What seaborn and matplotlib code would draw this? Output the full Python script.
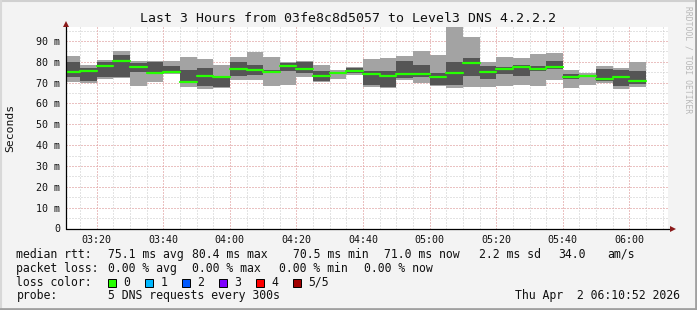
import numpy as np
import pandas as pd
import matplotlib
matplotlib.use("Agg")
import matplotlib.pyplot as plt
from matplotlib.lines import Line2D
from matplotlib.patches import Rectangle
import seaborn as sns

# ---------------- data (ms) ----------------
# bins of 5 minutes, start minute since 03:00
bin_start = [10 + 5 * k for k in range(35)]
ping_max = [82.7, 78.5, 81.1, 85.2, 80.3, 80.5, 80.6, 82.1, 81.5, 78.7,
            82.1, 84.7, 82.1, 80.1, 80.3, 78.5, 76.2, 77.5, 81.5, 82.0,
            82.7, 85.2, 83.2, 97.0, 92.0, 79.7, 82.4, 82.0, 83.6, 84.3,
            76.2, 74.8, 77.8, 77.1, 80.1]
ping_hi = [79.8, 77.1, 79.8, 83.1, 79.5, 80.0, 78.2, 76.2, 77.1, 73.3,
           80.0, 78.3, 75.9, 79.5, 79.8, 75.8, 74.7, 76.9, 75.4, 75.4,
           80.6, 78.3, 74.4, 80.1, 82.0, 78.2, 77.5, 78.3, 77.8, 80.6,
           74.3, 73.9, 76.6, 75.9, 75.4]
ping_med = [75.1, 75.4, 77.8, 80.3, 77.3, 74.6, 75.3, 70.5, 73.3, 72.5,
            76.7, 75.9, 75.3, 77.8, 76.4, 73.3, 74.4, 75.4, 74.1, 73.4,
            74.0, 74.3, 72.9, 74.6, 79.3, 75.3, 76.4, 77.4, 76.4, 77.5,
            72.9, 73.4, 71.8, 72.5, 71.0]
ping_lo = [72.5, 70.8, 72.5, 72.9, 74.9, 74.1, 74.6, 69.7, 68.4, 68.0,
           73.4, 73.8, 74.8, 75.4, 74.6, 70.8, 74.1, 74.5, 68.9, 67.9,
           72.2, 72.5, 69.0, 68.9, 73.3, 71.8, 74.3, 73.4, 75.4, 76.5,
           71.7, 72.9, 70.8, 68.2, 69.5]
ping_min = [70.5, 69.7, 71.9, 72.1, 68.4, 70.4, 74.2, 68.0, 66.8, 67.3,
            71.3, 71.3, 68.4, 68.7, 72.5, 70.2, 71.7, 73.6, 68.0, 67.3,
            71.3, 69.7, 68.2, 67.3, 67.9, 68.0, 68.5, 68.9, 68.5, 71.3,
            67.5, 69.0, 69.7, 66.8, 68.0]

x_ticks = [20, 40, 60, 80, 100, 120, 140, 160, 180]
x_labels = ["03:20", "03:40", "04:00", "04:20", "04:40", "05:00", "05:20", "05:40", "06:00"]
y_ticks = [0, 10, 20, 30, 40, 50, 60, 70, 80, 90]
y_labels = ["0", "10 m", "20 m", "30 m", "40 m", "50 m", "60 m", "70 m", "80 m", "90 m"]

loss_labels = ["0", "1", "2", "3", "4", "5/5"]
loss_colors = ["#26ff00", "#00b8ff", "#0059ff", "#7e00ff", "#ff0000", "#a10000"]

# ---------------- figure ----------------
sns.set_style("white")
plt.rcParams["font.family"] = ["DejaVu Sans Mono", "DejaVu Sans"]

W, H = 697, 310
fig = plt.figure(figsize=(W / 100, H / 100), dpi=100)
fig.patch.set_facecolor("#f3f3f3")

L, R, B, T = 66.3, 668, 228.5, 27
ax = fig.add_axes([L / W, 1 - B / H, (R - L) / W, (B - T) / H])
ax.set_facecolor("white")
ax.set_xlim(10.87, 191.6)
ax.set_ylim(0, 96.7)

df = pd.DataFrame({"start": bin_start, "max": ping_max, "hi": ping_hi,
                   "med": ping_med, "lo": ping_lo, "min": ping_min})

# grids
minor_c = "#c8c8c8"
major_c = "#f2a0a0"
for v in np.arange(15, 192, 5):
    ax.axvline(v, color=minor_c, lw=0.72, ls=(0, (1, 2)), zorder=0)
for v in np.arange(5, 96, 5):
    ax.axhline(v, color=minor_c, lw=0.72, ls=(0, (1, 2)), zorder=0)
for v in x_ticks:
    ax.axvline(v, color=major_c, lw=0.72, ls=(0, (1, 2)), zorder=0.5)
for v in y_ticks[1:]:
    ax.axhline(v, color=major_c, lw=0.72, ls=(0, (1, 2)), zorder=0.5)

# smoke
ax.bar(df["start"], df["max"] - df["min"], bottom=df["min"], width=5,
       align="edge", color="#a3a3a3", linewidth=0, zorder=2)
ax.bar(df["start"], df["hi"] - df["lo"], bottom=df["lo"], width=5,
       align="edge", color="#555555", linewidth=0, zorder=3)

# median segments via seaborn
seg = pd.DataFrame({
    "x": np.concatenate([df["start"].values, df["start"].values + 5]),
    "y": np.concatenate([df["med"].values, df["med"].values]),
    "bin": np.concatenate([np.arange(len(df)), np.arange(len(df))]),
})
sns.lineplot(data=seg, x="x", y="y", units="bin", estimator=None,
             color="#26ff00", lw=1.6, ax=ax, zorder=4, legend=False)

for s in ax.spines.values():
    s.set_visible(False)
ax.set_xlabel("")
ax.set_ylabel("")
ax.set_xticks(x_ticks)
ax.set_xticklabels(x_labels)
ax.set_yticks(y_ticks)
ax.set_yticklabels(y_labels)
ax.set_xticks(np.arange(15, 191, 5), minor=True)
ax.set_yticks(np.arange(5, 96, 5), minor=True)
ax.tick_params(axis="both", which="major", labelsize=7.2, colors="#222222",
               length=3, width=0.7, direction="inout", labelcolor="#111111")
ax.tick_params(axis="both", which="minor", length=2, width=0.7,
               direction="inout", colors="#444444")
ax.tick_params(axis="x", pad=3)
ax.tick_params(axis="y", pad=3)

# axis lines with arrows
xa0 = L / W
xa1 = 676 / W
ya = 1 - B / H
fig.add_artist(Line2D([xa0, xa1 - 4 / W], [ya, ya], color="black", lw=0.9))
fig.add_artist(Line2D([xa0, xa0], [ya, 1 - 25 / H], color="black", lw=0.9))
fig.add_artist(Line2D([xa1 - 3 / W], [ya], marker=">", markersize=5,
                      color="#8b1a1a", markeredgewidth=0))
fig.add_artist(Line2D([xa0], [1 - 24 / H], marker="^", markersize=5,
                      color="#8b1a1a", markeredgewidth=0))

# titles
fig.text(348 / W, 1 - 18.5 / H, "Last 3 Hours from 03fe8c8d5057 to Level3 DNS 4.2.2.2",
         ha="center", va="center", fontsize=9.5, color="#111111")
fig.text(10 / W, 1 - 128 / H, "Seconds", rotation=90, ha="center", va="center",
         fontsize=8.2, color="#111111")
fig.text(688 / W, 1 - 60 / H, "RRDTOOL / TOBI OETIKER", rotation=270,
         ha="center", va="center", fontsize=5.8, color="#b8b8b8")

# legend rows
fs = 8.3
def t(x, y, s, **kw):
    fig.text(x / W, 1 - y / H, s, ha=kw.pop("ha", "left"), va="center",
             fontsize=fs, color="#111111", **kw)

r1, r2, r3, r4 = 254.3, 268.3, 282.3, 296
t(16.4, r1, "median rtt:")
t(107.6, r1, "75.1 ms avg")
t(192.4, r1, "80.4 ms max")
t(293.3, r1, "70.5 ms min")
t(384.4, r1, "71.0 ms now")
t(479.1, r1, "2.2 ms sd")
t(557.8, r1, "34.0")
t(607.6, r1, "am/s")

t(16.4, r2, "packet loss:")
t(107.6, r2, "0.00 % avg")
t(192.4, r2, "0.00 % max")
t(279.0, r2, "0.00 % min")
t(364.4, r2, "0.00 % now")

t(16.4, r3, "loss color:")
box_x = [108, 145.3, 182.2, 219, 256.4, 293.3]
for bx, lab, col in zip(box_x, loss_labels, loss_colors):
    fig.add_artist(Rectangle((bx / W, 1 - 287 / H), 8 / W, 8 / H,
                             facecolor=col, edgecolor="black", lw=0.7))
    t(bx + 15, r3, lab)

t(16.4, r4, "probe:")
t(107.6, r4, "5 DNS requests every 300s")
t(680, r4, "Thu Apr  2 06:10:52 2026", ha="right")

# frame
fig.add_artist(Line2D([0, 1], [1 - 0.8 / H, 1 - 0.8 / H], color="#d0d0d0", lw=1.5))
fig.add_artist(Line2D([0.8 / W, 0.8 / W], [0, 1], color="#d8d8d8", lw=1.5))
fig.add_artist(Line2D([0, 1], [1.2 / H, 1.2 / H], color="#a0a0a0", lw=2))
fig.add_artist(Line2D([1 - 1.2 / W, 1 - 1.2 / W], [0, 1], color="#a0a0a0", lw=2))

fig.savefig("out.png", dpi=100, facecolor=fig.get_facecolor())
